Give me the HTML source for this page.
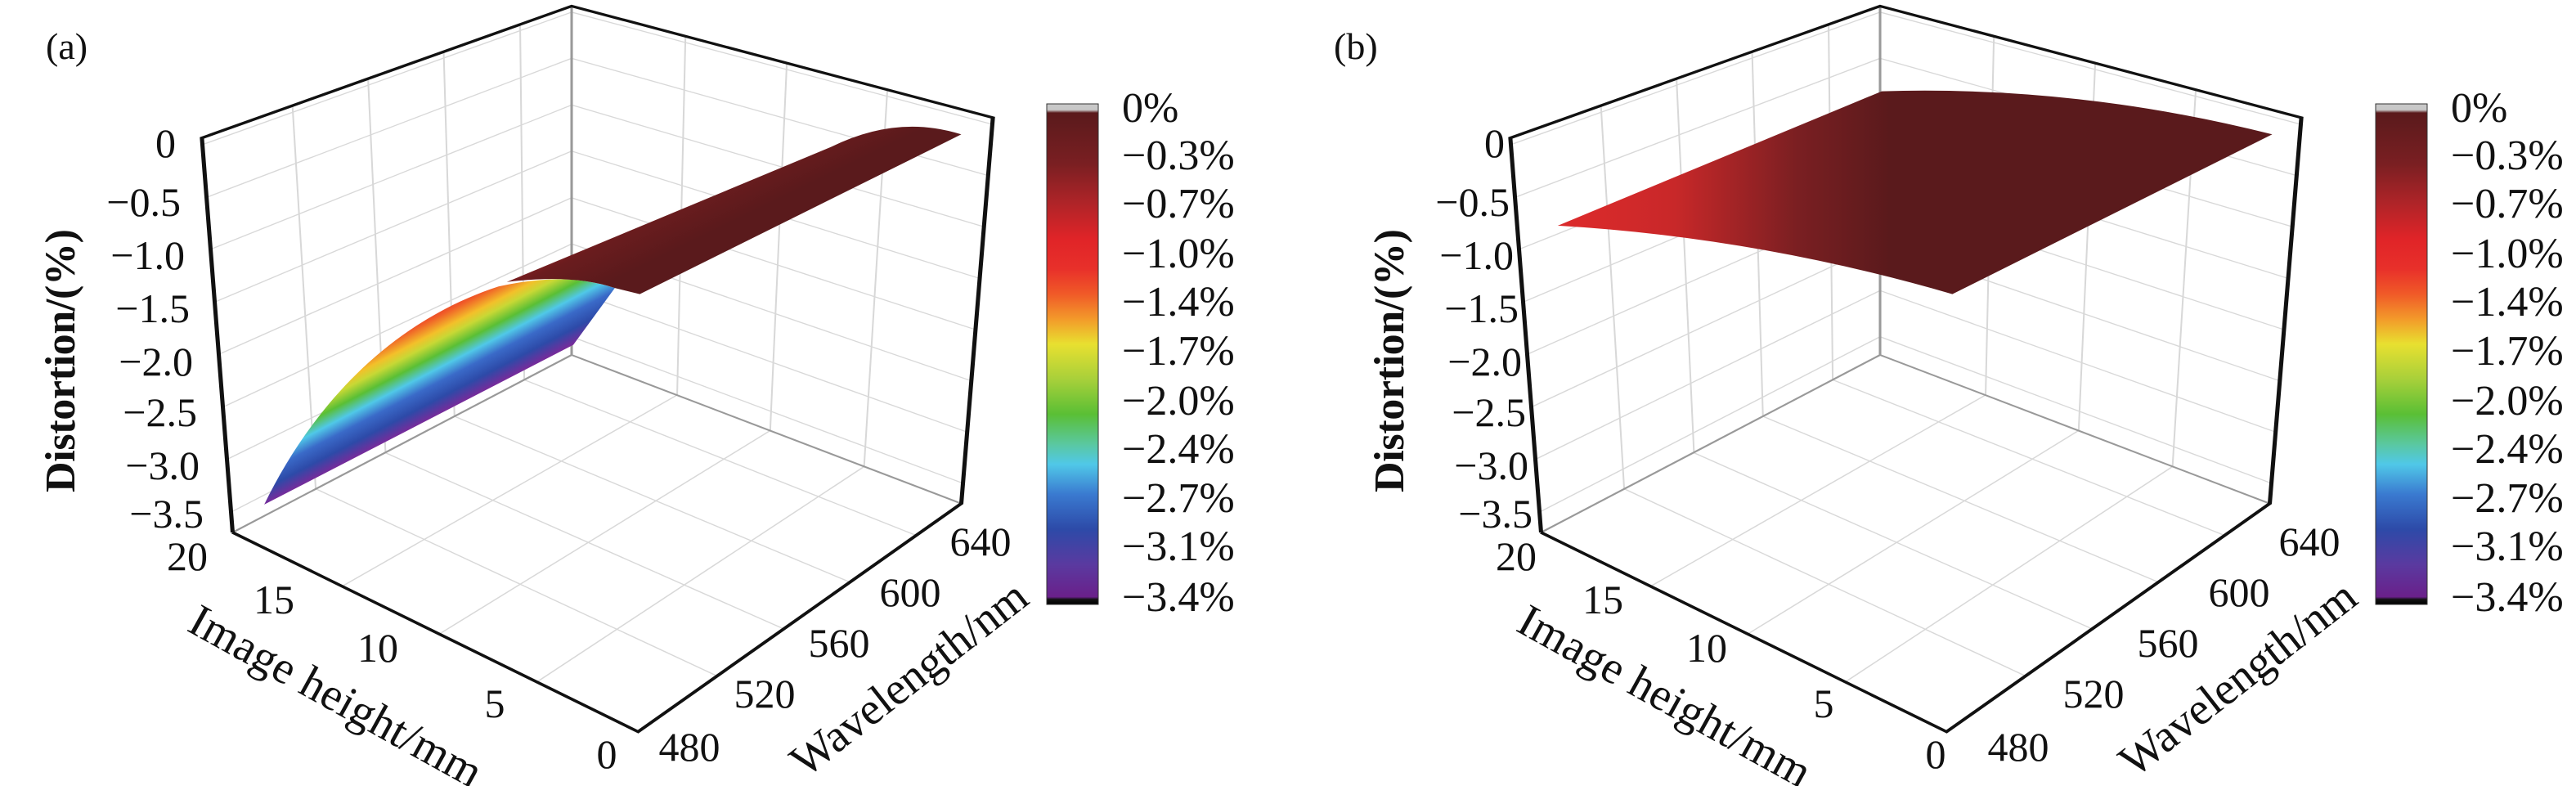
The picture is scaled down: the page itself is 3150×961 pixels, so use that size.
<!DOCTYPE html>
<html><head><meta charset="utf-8"><style>
html,body{margin:0;padding:0;background:#fff;}
svg{display:block;}
svg text{font-family:"Liberation Serif",serif !important;fill:#111;}
</style></head><body>
<svg width="3150" height="961" viewBox="0 0 3150 961" xmlns="http://www.w3.org/2000/svg" font-family="Liberation Serif, serif">
<defs>
<linearGradient id="cb" x1="0" y1="0" x2="0" y2="1">
<stop offset="0" stop-color="#c8c8c8"/><stop offset="0.012" stop-color="#c8c8c8"/>
<stop offset="0.018" stop-color="#5a1a1c"/><stop offset="0.12" stop-color="#7a1f22"/>
<stop offset="0.2" stop-color="#b02428"/><stop offset="0.27" stop-color="#e02428"/>
<stop offset="0.33" stop-color="#e8302a"/><stop offset="0.38" stop-color="#f05a28"/>
<stop offset="0.43" stop-color="#f39a2a"/><stop offset="0.48" stop-color="#e8e030"/>
<stop offset="0.55" stop-color="#a8d03a"/><stop offset="0.62" stop-color="#5abf35"/>
<stop offset="0.68" stop-color="#5ac8a0"/><stop offset="0.72" stop-color="#50c8e8"/>
<stop offset="0.78" stop-color="#3a7ad0"/><stop offset="0.85" stop-color="#2d4aa8"/>
<stop offset="0.92" stop-color="#5a3aa0"/><stop offset="0.985" stop-color="#6a208a"/>
<stop offset="0.99" stop-color="#111"/><stop offset="1" stop-color="#000"/>
</linearGradient>
<linearGradient id="rb" gradientUnits="userSpaceOnUse" x1="560" y1="560" x2="674" y2="694">
<stop offset="0" stop-color="#e02428"/><stop offset="0.15" stop-color="#f05a28"/>
<stop offset="0.28" stop-color="#f3c02a"/><stop offset="0.36" stop-color="#c8d835"/>
<stop offset="0.48" stop-color="#5abf35"/><stop offset="0.6" stop-color="#50c8e8"/>
<stop offset="0.72" stop-color="#3a6ac8"/><stop offset="0.86" stop-color="#2d4aa8"/>
<stop offset="1" stop-color="#7a2a9a"/>
</linearGradient>
<linearGradient id="dr" gradientUnits="userSpaceOnUse" x1="700" y1="420" x2="780" y2="520">
<stop offset="0" stop-color="#a82428"/><stop offset="0.5" stop-color="#6a1c1e"/><stop offset="1" stop-color="#5a1a1c"/>
</linearGradient>
<linearGradient id="bs" gradientUnits="userSpaceOnUse" x1="330" y1="0" x2="700" y2="0">
<stop offset="0" stop-color="#da2a2b"/><stop offset="0.3" stop-color="#c82829"/><stop offset="0.7" stop-color="#7a1f22"/><stop offset="1" stop-color="#5a1a1c"/>
</linearGradient>
<g id="grid" fill="none">
<g stroke="#d8d8d8" stroke-width="2">
<path d="M352,208L380,964M443,155L464,893M534,102L547,821M626,48L631,749"/>
<path d="M244,285L688,24M249,389L688,115M253,492L688,207M258,596L688,298M263,699L688,390M268,803L688,481M273,906L688,573M278,1010L688,664"/>
<path d="M1194,245L688,24M1189,346L688,115M1184,447L688,207M1179,549L688,298M1174,650L688,390M1169,751L688,481M1164,852L688,573M1159,953L688,664"/>
<path d="M825,71L815,779M947,124L927,849M1068,177L1040,920"/>
<path d="M380,964L863,1333M464,893L943,1240M547,821L1023,1148M631,749L1103,1056"/>
<path d="M412,1156L815,779M529,1250L927,849M646,1345L1040,920"/>
</g>
<path d="M688,12L688,700M688,700L280,1050M688,700L1157,993" stroke="#999" stroke-width="3"/>
<path d="M280,1050L243,272L688,12L1195,232L1157,993L768,1443L280,1050" stroke="#111" stroke-width="5"/>
</g>
</defs>

<g transform="scale(1.016,0.62)">
<use href="#grid"/>
<path d="M318,995 C370,820 460,640 600,565 Q680,535 740,568 L690,680 Z" fill="url(#rb)"/>
<path d="M610,556 L1000,290 Q1080,225 1157,265 L770,580 L740,568 Q690,540 610,556 Z" fill="url(#dr)"/>
</g>
<g transform="translate(1600,0) scale(1.016,0.62)">
<use href="#grid"/>
<path d="M300,445 L690,180 Q925,168 1160,265 L775,580 Q540,468 300,445 Z" fill="url(#bs)"/>
</g>

<rect x="1280" y="127" width="63" height="612" fill="url(#cb)" stroke="#333" stroke-width="1"/>
<rect x="2905" y="127" width="63" height="612" fill="url(#cb)" stroke="#333" stroke-width="1"/>

<g font-family="Liberation Serif, serif">
<g font-size="50" text-anchor="end">
<text x="215" y="192">0</text><text x="221" y="264">−0.5</text><text x="226" y="329">−1.0</text>
<text x="232" y="394">−1.5</text><text x="236" y="459">−2.0</text><text x="241" y="521">−2.5</text>
<text x="244" y="586">−3.0</text><text x="249" y="645">−3.5</text>
</g>
<g font-size="50" text-anchor="middle">
<text x="229" y="697">20</text><text x="335" y="750">15</text><text x="462" y="809">10</text>
<text x="605" y="877">5</text><text x="742" y="939">0</text>
<text x="843" y="930">480</text><text x="935" y="865">520</text><text x="1026" y="803">560</text>
<text x="1113" y="741">600</text><text x="1199" y="679">640</text>
</g>
<g font-size="52">
<text x="1372" y="149">0%</text><text x="1372" y="207">−0.3%</text><text x="1372" y="266">−0.7%</text>
<text x="1372" y="327">−1.0%</text><text x="1372" y="386">−1.4%</text><text x="1372" y="446">−1.7%</text>
<text x="1372" y="507">−2.0%</text><text x="1372" y="566">−2.4%</text><text x="1372" y="626">−2.7%</text>
<text x="1372" y="685">−3.1%</text><text x="1372" y="747">−3.4%</text>
</g>
<text font-size="56" text-anchor="middle" dominant-baseline="middle" textLength="400" transform="translate(408,856) rotate(29)">Image height/mm</text>
<text font-size="56" text-anchor="middle" dominant-baseline="middle" textLength="350" transform="translate(1115,834) rotate(-38)">Wavelength/nm</text>
<text font-size="52" font-weight="bold" text-anchor="middle" dominant-baseline="middle" textLength="322" transform="translate(79,441) rotate(-90)">Distortion/(%)</text>
<text x="56" y="72" font-size="46">(a)</text>
</g>

<g transform="translate(1625,0)" font-family="Liberation Serif, serif">
<g font-size="50" text-anchor="end">
<text x="215" y="192">0</text><text x="221" y="264">−0.5</text><text x="226" y="329">−1.0</text>
<text x="232" y="394">−1.5</text><text x="236" y="459">−2.0</text><text x="241" y="521">−2.5</text>
<text x="244" y="586">−3.0</text><text x="249" y="645">−3.5</text>
</g>
<g font-size="50" text-anchor="middle">
<text x="229" y="697">20</text><text x="335" y="750">15</text><text x="462" y="809">10</text>
<text x="605" y="877">5</text><text x="742" y="939">0</text>
<text x="843" y="930">480</text><text x="935" y="865">520</text><text x="1026" y="803">560</text>
<text x="1113" y="741">600</text><text x="1199" y="679">640</text>
</g>
<g font-size="52">
<text x="1372" y="149">0%</text><text x="1372" y="207">−0.3%</text><text x="1372" y="266">−0.7%</text>
<text x="1372" y="327">−1.0%</text><text x="1372" y="386">−1.4%</text><text x="1372" y="446">−1.7%</text>
<text x="1372" y="507">−2.0%</text><text x="1372" y="566">−2.4%</text><text x="1372" y="626">−2.7%</text>
<text x="1372" y="685">−3.1%</text><text x="1372" y="747">−3.4%</text>
</g>
<text font-size="56" text-anchor="middle" dominant-baseline="middle" textLength="400" transform="translate(408,856) rotate(29)">Image height/mm</text>
<text font-size="56" text-anchor="middle" dominant-baseline="middle" textLength="350" transform="translate(1115,834) rotate(-38)">Wavelength/nm</text>
<text font-size="52" font-weight="bold" text-anchor="middle" dominant-baseline="middle" textLength="322" transform="translate(79,441) rotate(-90)">Distortion/(%)</text>
</g>
<text x="1631" y="72" font-size="46" font-family="Liberation Serif, serif">(b)</text>
</svg>
</body></html>
